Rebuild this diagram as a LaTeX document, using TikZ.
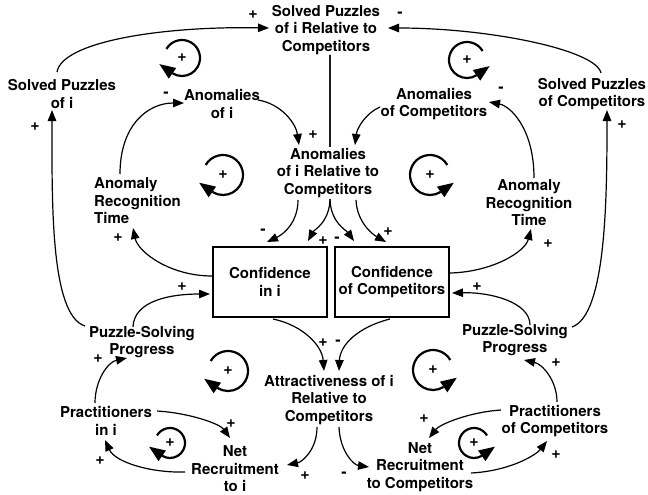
\documentclass[tikz,border=0pt]{standalone}
\usepackage{fontspec}
\setmainfont{TeX Gyre Heros}
\usetikzlibrary{arrows.meta,calc}
\pgfdeclarelayer{paper}
\pgfdeclarelayer{back}
\pgfsetlayers{paper,back,main}

\tikzset{
  lbl/.style={font=\fontsize{15}{17.5}\selectfont\bfseries, align=center, inner sep=1pt},
  box/.style={lbl, draw, line width=2pt, minimum width=114pt, minimum height=70pt},
  link/.style={line width=1.2pt, -{Triangle[length=11pt,width=8.5pt]}},
  sign/.style={font=\fontsize{16}{16}\selectfont\bfseries, inner sep=0pt},
  loopline/.style={line width=2.2pt},
}

% feedback-loop markers: clockwise and counter-clockwise,
% arrowhead drawn as a triangle tangent to the end of the arc
\newcommand\cwloop[3]{%
  \begin{scope}[shift={(#2)},x=1pt,y=1pt]
    \draw[loopline] (150:#3) arc[start angle=150,end angle=-122,radius=#3];
    \fill[rotate=-125] (#3-6.5,1) -- (#3+6.5,1) -- (#3,-15) -- cycle;
    \node[sign] (#1) at (0,0) {+};
  \end{scope}}
\newcommand\ccwloop[3]{%
  \begin{scope}[shift={(#2)},x=1pt,y=1pt]
    \draw[loopline] (30:#3) arc[start angle=30,end angle=302,radius=#3];
    \fill[rotate=305] (#3-6.5,-1) -- (#3+6.5,-1) -- (#3,15) -- cycle;
    \node[sign] (#1) at (0,0) {+};
  \end{scope}}

\begin{document}
\begin{tikzpicture}[x=1pt,y=-1pt]
\begin{pgfonlayer}{paper}
\fill[white] (0,0) rectangle (648,495);
\end{pgfonlayer}
\useasboundingbox (0,0) rectangle (648,495);

% variables
\node[lbl] (spr) at (326,30) {Solved Puzzles\\of i Relative to\\Competitors};
\node[lbl] (spi) at (62,94) {Solved Puzzles\\of i};
\node[lbl] (spc) at (592,94) {Solved Puzzles\\of Competitors};
\node[lbl] (ani) at (222,104) {Anomalies\\of i};
\node[lbl] (anc) at (434,104) {Anomalies\\of Competitors};
\node[lbl,fill=white] (anr) at (328,173) {Anomalies\\of i Relative to\\Competitors};
\node[lbl,align=left,anchor=west] (arl) at (93,201) {Anomaly\\Recognition\\Time};
\node[lbl] (arr) at (529,203) {Anomaly\\Recognition\\Time};
\node[box] (ci) at (270,282) {Confidence\\in i};
\node[box] (cc) at (392,282) {Confidence\\of Competitors};
\node[lbl] (psl) at (142,342) {Puzzle-Solving\\Progress};
\node[lbl] (psr) at (515,340) {Puzzle-Solving\\Progress};
\node[lbl] (att) at (329,400) {Attractiveness of i\\Relative to\\Competitors};
\node[lbl] (pri) at (106,421) {Practitioners\\in i};
\node[lbl] (prc) at (555,421) {Practitioners\\of Competitors};
\node[lbl] (nri) at (235,469) {Net\\Recruitment\\to i};
\node[lbl] (nrc) at (420,467) {Net\\Recruitment\\to Competitors};

% causal links
\begin{pgfonlayer}{back}
\draw[link] ($(spi)+(-5,-22)$) .. controls (62,42) and (160,26) .. ($(spr)+(-57,-2)$);
\draw[link] ($(spc)+(9,-21)$) .. controls (596,50) and (490,28) .. ($(spr)+(62,-2)$);
\draw[link] ($(spr)+(4,25)$) -- ($(anr)+(2,25)$) .. controls (330,222) and (314,230) .. ($(ci)+(38,-41)$);
\draw[link] ($(spr)+(4,25)$) -- ($(anr)+(2,25)$) .. controls (330,222) and (346,230) .. ($(cc)+(-38,-41)$);
\draw[link] ($(anr)+(-30,27)$) .. controls (298,222) and (284,234) .. ($(ci)+(-3,-40)$);
\draw[link] ($(anr)+(28,27)$) .. controls (357,222) and (372,234) .. ($(cc)+(-6,-40)$);
\draw[link] ($(ani)+(36,-4)$) .. controls (282,104) and (296,124) .. ($(anr)+(-29,-28)$);
\draw[link] ($(anc)+(-54,3)$) .. controls (366,113) and (357,128) .. ($(anr)+(27,-28)$);
\draw[link] ($(arl.west)+(27,-27)$) .. controls (120,125) and (148,103) .. ($(ani)+(-38,-1)$);
\draw[link] ($(arr)+(5,-25)$) .. controls (534,128) and (510,106) .. ($(anc)+(55,-2)$);
\draw[link] ($(ci)+(-58,-6)$) .. controls (170,276) and (138,252) .. ($(arl.west)+(40,27)$);
\draw[link] ($(cc)+(58,-9)$) .. controls (492,272) and (525,252) .. ($(arr)+(2,26)$);
\draw[link] ($(psl)+(-9,-15)$) .. controls (134,300) and (172,294) .. ($(ci)+(-60,12)$);
\draw[link] ($(psr)+(15,-15)$) .. controls (530,302) and (490,292) .. ($(cc)+(60,11)$);
\draw[link] ($(psl)+(-57,-16)$) .. controls (50,315) and (52,200) .. ($(spi)+(-10,16)$);
\draw[link] ($(psr)+(57,-13)$) .. controls (606,315) and (607,200) .. ($(spc)+(15,16)$);
\draw[link] ($(ci)+(3,37)$) .. controls (302,325) and (322,345) .. ($(att)+(-5,-29)$);
\draw[link] ($(cc)+(-2,37)$) .. controls (358,327) and (340,345) .. ($(att)+(10,-29)$);
\draw[link] ($(att)+(-12,27)$) .. controls (317,450) and (302,462) .. ($(nri)+(52,-4)$);
\draw[link] ($(att)+(10,27)$) .. controls (340,452) and (354,465) .. ($(nrc)+(-51,0)$);
\draw[link] ($(pri)+(-11,-18)$) .. controls (95,380) and (108,362) .. ($(psl)+(-15,16)$);
\draw[link] ($(pri)+(51,-10)$) .. controls (190,413) and (220,424) .. ($(nri)+(-5,-31)$);
\draw[link] ($(nri)+(-50,3)$) .. controls (150,473) and (115,462) .. ($(pri)+(-1,19)$);
\draw[link] ($(prc)+(2,-19)$) .. controls (557,380) and (542,364) .. ($(psr)+(9,20)$);
\draw[link] ($(prc)+(-54,-11)$) .. controls (470,412) and (440,424) .. ($(nrc)+(9,-29)$);
\draw[link] ($(nrc)+(51,6)$) .. controls (510,471) and (536,455) .. ($(prc)+(-8,20)$);
\end{pgfonlayer}

% link polarities
\node[sign] (s1) at (253,15) {+};
\node[sign] (s2) at (400,15) {-};
\node[sign] (s3) at (35,127) {+};
\node[sign] (s4) at (622,125) {+};
\node[sign] (s5) at (166,95) {-};
\node[sign] (s6) at (501,90) {-};
\node[sign] (s7) at (313,135) {+};
\node[sign] (s8) at (263,232) {-};
\node[sign] (s9) at (323,241) {+};
\node[sign] (s10) at (337,240) {-};
\node[sign] (s11) at (388,232) {+};
\node[sign] (s12) at (118,238) {+};
\node[sign] (s13) at (548,244) {+};
\node[sign] (s14) at (182,287) {+};
\node[sign] (s15) at (477,287) {+};
\node[sign] (s16) at (323,343) {+};
\node[sign] (s17) at (338,343) {-};
\node[sign] (s18) at (98,359) {+};
\node[sign] (s19) at (556,363) {+};
\node[sign] (s20) at (231,424) {+};
\node[sign] (s21) at (424,419) {+};
\node[sign] (s22) at (100,461) {+};
\node[sign] (s23) at (305,476) {+};
\node[sign] (s24) at (344,475) {-};
\node[sign] (s25) at (556,455) {+};

% loop markers
\cwloop{l1}{182,58}{18}
\ccwloop{l2}{467,60}{18}
\cwloop{l3}{223,175}{20}
\ccwloop{l4}{430,175}{20}
\cwloop{l5}{228,371}{20}
\ccwloop{l6}{433,370}{20}
\cwloop{l7}{170,443}{15}
\ccwloop{l8}{474,443}{15}
\end{tikzpicture}
\end{document}
